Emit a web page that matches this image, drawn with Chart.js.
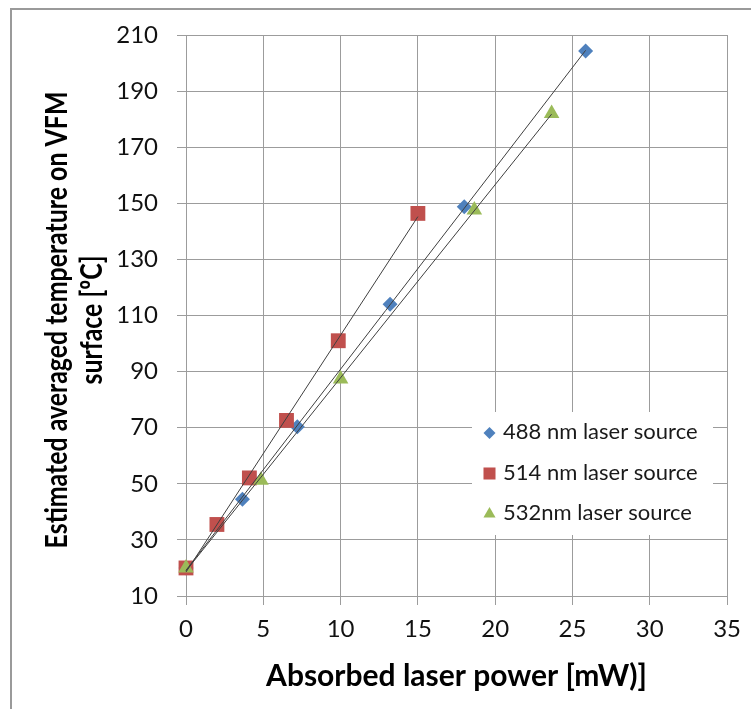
<!DOCTYPE html>
<html>
<head>
<meta charset="utf-8">
<title>Estimated VFM surface temperature vs absorbed laser power</title>
<script src="https://cdn.jsdelivr.net/npm/chart.js@4.4.1/dist/chart.umd.min.js"></script>
<style>
  html, body { margin: 0; padding: 0; background: #fff; }
  #wrap { position: relative; width: 751px; height: 709px; }
  #frame { position: absolute; left: 10px; top: 8px; right: 0; bottom: 0;
           border-left: 2px solid #9a9a9a; border-top: 2px solid #9a9a9a; pointer-events: none; }
  canvas { position: absolute; left: 0; top: 0; }
</style>
</head>
<body>
<div id="wrap">
  <canvas id="chartTemp" width="751" height="709"></canvas>
  <div id="frame"></div>
</div>
<script>
// absorbed power [mW] and estimated temperature [ºC] per laser line
const P_488 = [0, 3.65, 7.2, 13.2, 18.0, 25.85];
const T_488 = [20, 44.5, 70.3, 114, 148.8, 204.3];

const P_514 = [0, 2.0, 4.1, 6.5, 9.85, 15.0];
const T_514 = [20, 35.5, 52.1, 72.6, 101, 146.4];

const P_532 = [0, 4.85, 10.0, 18.65, 23.65];
const T_532 = [20, 51.3, 87.4, 147.6, 182];

const SERIES_NAMES = ['488 nm laser source', '514 nm laser source', '532nm laser source'];
const X_TICKS = [0, 5, 10, 15, 20, 25, 30, 35];
const Y_TICKS = [10, 30, 50, 70, 90, 110, 130, 150, 170, 190, 210];
const X_TITLE = 'Absorbed laser power [mW)]';
const Y_TITLE = ['Estimated averaged temperature on VFM', 'surface [ºC]'];

const COLORS = ['#4F81BD', '#C0504D', '#9BBB59'];
const STYLES = ['rectRot', 'rect', 'triangle'];
const RADII = [7.5, 10.5, 9];
const FONT = 'Lato, "Open Sans", sans-serif';
const GRID = '#9c9c9c';

const toPts = (xs, ys) => xs.map((x, i) => ({ x: x, y: ys[i] }));

// least squares line over the measured range, like a spreadsheet trendline
function trend(xs, ys) {
  const n = xs.length;
  const mx = xs.reduce((a, b) => a + b, 0) / n;
  const my = ys.reduce((a, b) => a + b, 0) / n;
  let sxy = 0, sxx = 0;
  xs.forEach((x, i) => { sxy += (x - mx) * (ys[i] - my); sxx += (x - mx) * (x - mx); });
  const k = sxy / sxx, b = my - k * mx;
  const x0 = Math.min(...xs), x1 = Math.max(...xs);
  return [{ x: x0, y: k * x0 + b }, { x: x1, y: k * x1 + b }];
}

const raw = [[P_488, T_488], [P_514, T_514], [P_532, T_532]];

// later series sit on top of earlier ones, trendlines above all markers
const pointSets = raw.map((s, idx) => ({
  label: SERIES_NAMES[idx],
  data: toPts(s[0], s[1]),
  showLine: false,
  pointStyle: STYLES[idx],
  pointRadius: RADII[idx],
  pointHoverRadius: RADII[idx],
  backgroundColor: COLORS[idx],
  borderColor: COLORS[idx],
  pointBorderWidth: 0,
  clip: false,
  order: 4 - idx
}));

const trendSets = raw.map(s => ({
  label: '',
  data: trend(s[0], s[1]),
  showLine: true,
  borderColor: '#3f3f3f',
  borderWidth: 1,
  pointRadius: 0,
  pointHoverRadius: 0,
  clip: false,
  order: 0
}));

// legend drawn inside the plot area, over the grid
const boxLegend = {
  id: 'boxLegend',
  afterDatasetsDraw(chart) {
    const ctx = chart.ctx;
    const bx = 472, by = 412, bw = 241, bh = 123;
    ctx.save();
    ctx.fillStyle = '#ffffff';
    ctx.fillRect(bx, by, bw, bh);
    ctx.font = '22px ' + FONT;
    ctx.textBaseline = 'middle';
    const legendR = [6, 8.5, 7];
    SERIES_NAMES.forEach((name, i) => {
      const cy = by + 20 + i * 40.5;
      ctx.fillStyle = COLORS[i];
      ctx.strokeStyle = COLORS[i];
      Chart.helpers.drawPoint(ctx, { pointStyle: STYLES[i], radius: legendR[i], rotation: 0, borderWidth: 0 }, 489.5, cy + 1);
      ctx.fillStyle = '#1a1a1a';
      ctx.fillText(name, 503, cy);
    });
    ctx.restore();
  }
};

// two-line rotated y title, set a little condensed along the text
const yTitle = {
  id: 'yTitle',
  afterDraw(chart) {
    const ctx = chart.ctx;
    const baseX = [67, 102];
    const cy = 320;
    ctx.save();
    ctx.font = 'bold 30px ' + FONT;
    ctx.fillStyle = '#000';
    ctx.textAlign = 'center';
    ctx.textBaseline = 'alphabetic';
    Y_TITLE.forEach((line, i) => {
      ctx.save();
      ctx.translate(baseX[i], cy);
      ctx.rotate(-Math.PI / 2);
      ctx.scale(0.83, 1);
      ctx.fillText(line, 0, 0);
      ctx.restore();
    });
    ctx.restore();
  }
};

new Chart(document.getElementById('chartTemp'), {
  type: 'scatter',
  data: { datasets: [...pointSets, ...trendSets] },
  plugins: [boxLegend, yTitle],
  options: {
    responsive: false,
    animation: false,
    layout: { padding: { top: 35, right: 21, left: 0, bottom: 0 } },
    plugins: { legend: { display: false }, tooltip: { enabled: false } },
    scales: {
      x: {
        type: 'linear', min: 0, max: 35,
        afterFit: s => { s.height = 113; },
        afterBuildTicks: s => { s.ticks = X_TICKS.map(v => ({ value: v })); },
        ticks: { color: '#111', font: { family: FONT, size: 24 }, padding: 10 },
        grid: { color: GRID, tickLength: 9, tickColor: GRID },
        border: { color: GRID },
        title: {
          display: true, text: X_TITLE, color: '#000',
          font: { family: FONT, size: 30, weight: 'bold' }, padding: { top: 0, bottom: 15 }
        }
      },
      y: {
        type: 'linear', min: 10, max: 210,
        afterFit: s => { s.width = 186; },
        afterBuildTicks: s => { s.ticks = Y_TICKS.map(v => ({ value: v })); },
        ticks: { color: '#111', font: { family: FONT, size: 24 }, padding: 19 },
        grid: { color: GRID, tickLength: 9, tickColor: GRID },
        border: { color: GRID }
      }
    }
  }
});
</script>
</body>
</html>
